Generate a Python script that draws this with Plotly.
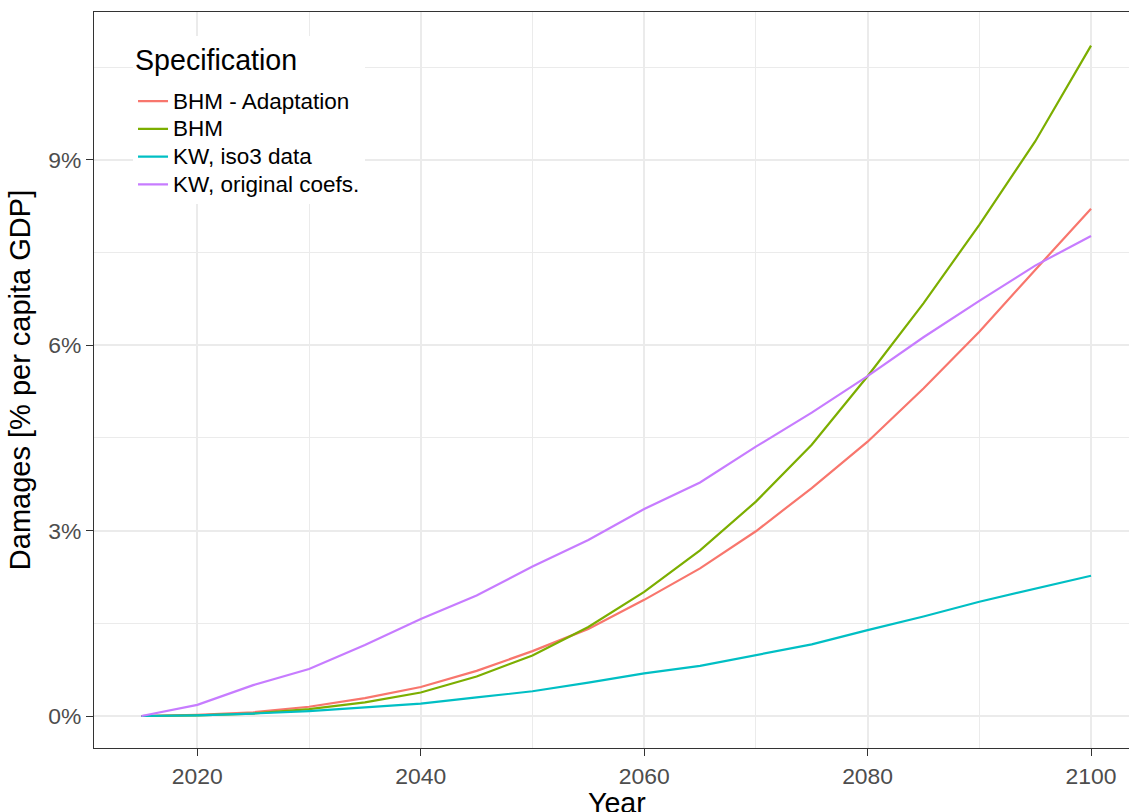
import plotly.graph_objects as go

years = list(range(2015, 2101, 5))
series_names = ["BHM - Adaptation", "BHM", "KW, iso3 data", "KW, original coefs."]
bhm_adapt = [0.0, 0.02, 0.06, 0.15, 0.29, 0.47, 0.73, 1.05, 1.41, 1.88, 2.39, 2.99, 3.69, 4.44, 5.30, 6.22, 7.22, 8.21]
bhm = [0.0, 0.01, 0.04, 0.11, 0.22, 0.38, 0.64, 0.98, 1.44, 2.01, 2.68, 3.47, 4.39, 5.50, 6.68, 7.95, 9.30, 10.85]
kw_iso3 = [0.0, 0.01, 0.04, 0.08, 0.14, 0.20, 0.30, 0.40, 0.54, 0.69, 0.81, 0.98, 1.16, 1.39, 1.61, 1.85, 2.06, 2.27]
kw_orig = [0.0, 0.18, 0.50, 0.76, 1.15, 1.57, 1.95, 2.42, 2.85, 3.35, 3.78, 4.36, 4.91, 5.50, 6.13, 6.72, 7.29, 7.77]
colors = ["#F8766D", "#7CAE00", "#00BFC4", "#C77CFF"]
y_ticks = [0, 3, 6, 9]
y_tick_labels = ["0%", "3%", "6%", "9%"]
x_ticks = [2020, 2040, 2060, 2080, 2100]
legend_title = "Specification"
x_title = "Year"
y_title = "Damages [% per capita GDP]"

font_family = "Liberation Sans, Arial, sans-serif"

fig = go.Figure()
for name, vals, col in zip(series_names, [bhm_adapt, bhm, kw_iso3, kw_orig], colors):
    fig.add_trace(go.Scatter(x=years, y=vals, mode="lines",
                             name="<span style='font-size:22.5px'>" + name + "</span>",
                             line=dict(color=col, width=2.2), hoverinfo="skip"))

fig.add_annotation(text=x_title, xref="paper", yref="paper", x=0.505, y=0,
                   xanchor="center", yanchor="top", yshift=-37, showarrow=False,
                   font=dict(size=28.6, color="#000000", family=font_family))

fig.update_layout(
    width=1129, height=812,
    margin=dict(l=94, r=0, t=12, b=64, autoexpand=False),
    paper_bgcolor="white", plot_bgcolor="white",
    font=dict(family=font_family, color="#000000"),
    legend=dict(
        title=dict(text="<span style='font-size:28.6px;baseline-shift:12px'>" + legend_title + "</span>",
                   font=dict(size=36, color="#000000")),
        font=dict(size=19, color="#000000"),
        x=0.0377, y=0.968, xanchor="left", yanchor="top",
        bgcolor="white", borderwidth=0,
        itemwidth=30, tracegroupgap=0,
    ),
    xaxis=dict(
        range=[2010.75, 2103.4], automargin=False,
        tickvals=x_ticks, ticktext=[str(v) for v in x_ticks],
        tickfont=dict(size=22.9, color="#4D4D4D"),
        ticks="outside", ticklen=7, tickcolor="#333333", tickwidth=1.3,
        showgrid=True, gridcolor="#EBEBEB", gridwidth=1.8,
        minor=dict(tickvals=[2030, 2050, 2070, 2090], showgrid=True,
                   gridcolor="#EBEBEB", gridwidth=1.0, ticks=""),
        showline=True, linecolor="#333333", linewidth=1.3, mirror=True,
        zeroline=False,
    ),
    yaxis=dict(
        range=[-0.518, 11.395], automargin=True,
        tickvals=y_ticks, ticktext=y_tick_labels,
        tickfont=dict(size=22.9, color="#4D4D4D"),
        ticks="outside", ticklen=7, tickcolor="#333333", tickwidth=1.3,
        showgrid=True, gridcolor="#EBEBEB", gridwidth=1.8,
        minor=dict(tickvals=[1.5, 4.5, 7.5, 10.5], showgrid=True,
                   gridcolor="#EBEBEB", gridwidth=1.0, ticks=""),
        showline=True, linecolor="#333333", linewidth=1.3, mirror=False,
        zeroline=False,
        title=dict(text=y_title, font=dict(size=29, color="#000000"), standoff=9),
    ),
)

fig.write_html("out.html", config={"displayModeBar": False},
               post_script="document.body.style.margin='0';document.body.style.overflow='hidden';")
